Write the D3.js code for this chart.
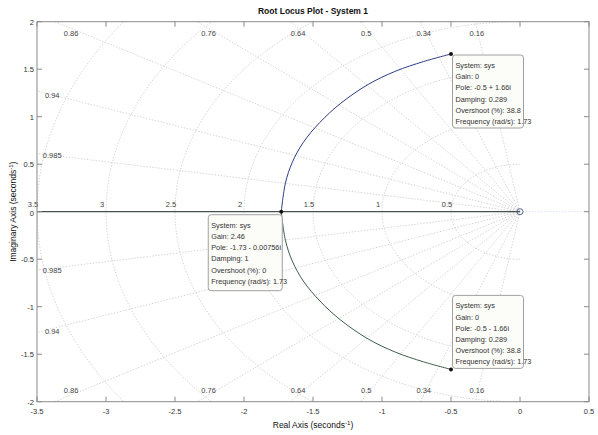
<!DOCTYPE html>
<html><head><meta charset="utf-8">
<script src="https://cdn.jsdelivr.net/npm/d3@7"></script>
<style>body{margin:0;background:#fff}svg{display:block;font-family:"Liberation Sans",Arial,sans-serif}</style>
</head><body><svg id="c" width="598" height="435"></svg>
<script>
// ---- data ----
const title = "Root Locus Plot - System 1";
const xTicks = [-3.5,-3,-2.5,-2,-1.5,-1,-0.5,0,0.5];
const yTicks = [-2,-1.5,-1,-0.5,0,0.5,1,1.5,2];
const dampingTop = [0.86,0.76,0.64,0.5,0.34,0.16];
const dampingLeft = [0.94,0.985];
const freqCircles = [0.5,1,1.5,2,2.5,3,3.5];
// upper branch of the locus (real, imag)
const locusUpper = [[-0.5,1.66],[-0.7,1.58],[-0.9,1.48],[-1.1,1.34],[-1.3,1.14],[-1.45,0.94],[-1.57,0.73],[-1.65,0.52],[-1.70,0.30],[-1.73,0]];
const locusLower = [[-0.5,-1.66],[-0.7,-1.58],[-0.9,-1.48],[-1.1,-1.34],[-1.3,-1.14],[-1.45,-0.94],[-1.57,-0.73],[-1.65,-0.52],[-1.70,-0.30],[-1.73,0]];
const realAxisLocus = [[-3.5,0],[0,0]];
const zeros = [[0,0]];
const tipTop = {pt:[-0.5,1.66], lines:["System: sys","Gain: 0","Pole: -0.5 + 1.66i","Damping: 0.289","Overshoot (%): 38.8","Frequency (rad/s): 1.73"]};
const tipMid = {pt:[-1.73,0], lines:["System: sys","Gain: 2.46","Pole: -1.73 - 0.00756i","Damping: 1","Overshoot (%): 0","Frequency (rad/s): 1.73"]};
const tipBot = {pt:[-0.5,-1.66], lines:["System: sys","Gain: 0","Pole: -0.5 - 1.66i","Damping: 0.289","Overshoot (%): 38.8","Frequency (rad/s): 1.73"]};

// ---- layout ----
const L=37,R=589,T=21.7,B=401.7;
const x=d3.scaleLinear().domain([-3.5,0.5]).range([L,R]);
const y=d3.scaleLinear().domain([-2,2]).range([B,T]);
const svg=d3.select("#c");
svg.append("defs").append("clipPath").attr("id","clip").append("rect").attr("x",L).attr("y",T).attr("width",R-L).attr("height",B-T);

const grid=svg.append("g").attr("clip-path","url(#clip)")
  .attr("fill","none").attr("stroke","#d6d6d6").attr("stroke-width",1).attr("stroke-dasharray","1.5,1.5");
// damping rays
const allZ=dampingTop.concat(dampingLeft);
allZ.forEach(z=>{
  const th=Math.acos(z), far=10;
  [1,-1].forEach(s=>{
    grid.append("line").attr("x1",x(0)).attr("y1",y(0))
      .attr("x2",x(-far*Math.cos(th))).attr("y2",y(s*far*Math.sin(th)));
  });
});
// frequency circles
freqCircles.forEach(r=>{
  const pts=d3.range(0,181,2).map(a=>{const t=(90+a)*Math.PI/180;return [r*Math.cos(t),r*Math.sin(t)];});
  grid.append("path").attr("d",d3.line().x(d=>x(d[0])).y(d=>y(d[1]))(pts));
});
// faint real axis right of origin
grid.append("line").attr("x1",x(0)).attr("x2",x(0.5)).attr("y1",y(0)).attr("y2",y(0)).attr("stroke","#dde4f2").attr("stroke-dasharray",null);

// grid labels
const gl=svg.append("g").attr("font-size",7.5).attr("fill","#444").attr("text-anchor","middle");
dampingTop.forEach(z=>{
  const tn=Math.tan(Math.acos(z)), yy=1.93;
  gl.append("text").attr("x",x(-yy/tn)).attr("y",36).text(z);
  gl.append("text").attr("x",x(-yy/tn)).attr("y",2*y(0)-36+6).text(z);
});
dampingLeft.forEach(z=>{
  const tn=Math.tan(Math.acos(z)), xx=-3.39;
  gl.append("text").attr("x",x(xx)).attr("y",y(-xx*tn)+3).text(z);
  gl.append("text").attr("x",x(xx)).attr("y",y(xx*tn)+5).text(z);
});
freqCircles.forEach(r=>{
  gl.append("text").attr("x",x(-r)-4).attr("y",y(0)-4.5).text(r);
});

// locus
const line=d3.line().x(d=>x(d[0])).y(d=>y(d[1])).curve(d3.curveCatmullRom);
const lg=svg.append("g").attr("clip-path","url(#clip)").attr("fill","none");
lg.append("path").attr("d",line(realAxisLocus)).attr("stroke","#4a4f4c").attr("stroke-width",1.2);
lg.append("path").attr("d",line(locusUpper)).attr("stroke","#2c3c86").attr("stroke-width",1);
lg.append("path").attr("d",line(locusLower)).attr("stroke","#3e5e4a").attr("stroke-width",1);
zeros.forEach(d=>lg.append("circle").attr("cx",x(d[0])).attr("cy",y(d[1])).attr("r",3).attr("stroke","#556a90").attr("stroke-width",1));

// axes box and ticks
const ax=svg.append("g").attr("stroke","#8a8a8a").attr("fill","none");
ax.append("rect").attr("x",L).attr("y",T).attr("width",R-L).attr("height",B-T);
xTicks.forEach(v=>{
  ax.append("line").attr("x1",x(v)).attr("x2",x(v)).attr("y1",B).attr("y2",B-5);
  ax.append("line").attr("x1",x(v)).attr("x2",x(v)).attr("y1",T).attr("y2",T+5);
});
yTicks.forEach(v=>{
  ax.append("line").attr("y1",y(v)).attr("y2",y(v)).attr("x1",L).attr("x2",L+5);
  ax.append("line").attr("y1",y(v)).attr("y2",y(v)).attr("x1",R).attr("x2",R-5);
});
const tl=svg.append("g").attr("font-size",7.5).attr("fill","#333");
xTicks.forEach(v=>tl.append("text").attr("x",x(v)).attr("y",B+12).attr("text-anchor","middle").text(v));
yTicks.forEach(v=>tl.append("text").attr("x",L-3).attr("y",y(v)+(v===0?4.5:3)).attr("text-anchor","end").text(v));

// titles
svg.append("text").attr("x",(L+R)/2).attr("y",14).attr("text-anchor","middle").attr("font-size",8.5).attr("font-weight","bold").attr("fill","#111").text(title);
const xl=svg.append("text").attr("x",(L+R)/2).attr("y",428).attr("text-anchor","middle").attr("font-size",8.5).attr("fill","#111");
xl.append("tspan").text("Real Axis (seconds");
xl.append("tspan").attr("dy",-3).attr("font-size",6).text("-1");
xl.append("tspan").attr("dy",3).text(")");
const yl=svg.append("text").attr("transform",`translate(16,${(T+B)/2}) rotate(-90)`).attr("text-anchor","middle").attr("font-size",8.5).attr("fill","#111");
yl.append("tspan").text("Imaginary Axis (seconds");
yl.append("tspan").attr("dy",-3).attr("font-size",6).text("-1");
yl.append("tspan").attr("dy",3).text(")");

// data tips
function tip(t,dx,dy,w,h){
  const px=x(t.pt[0]), py=y(t.pt[1]);
  const g=svg.append("g");
  const bx=px+dx, by=py+dy;
  g.append("rect").attr("x",bx).attr("y",by).attr("width",w).attr("height",h).attr("rx",3)
    .attr("fill","#fcfcf9").attr("stroke","#a0a0a0").attr("stroke-width",1);
  t.lines.forEach((s,i)=>g.append("text").attr("x",bx+3).attr("y",by+13+i*11.2)
    .attr("font-size",7.3).attr("fill","#333").text(s));
  g.append("circle").attr("cx",px).attr("cy",py).attr("r",2).attr("fill","#111");
}
tip(tipTop,1.5,1,71,73);
tip(tipMid,-73,3,74,76);
tip(tipBot,1.5,-74,71,73);
</script></body></html>
